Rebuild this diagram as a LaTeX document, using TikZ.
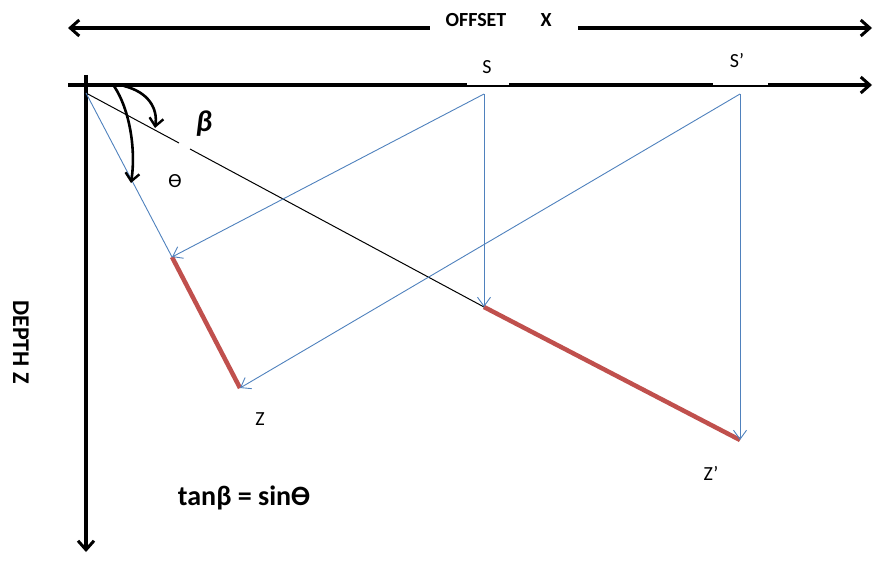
\documentclass[tikz,border=0pt]{standalone}
\usepackage{fontspec}
\setmainfont{Carlito}
\usetikzlibrary{arrows.meta}
\definecolor{rayblue}{RGB}{79,129,189}
\definecolor{segred}{RGB}{192,80,77}
\tikzset{
  axis/.style={line width=3.2pt, -{Straight Barb[length=9pt,width=16pt,line width=3pt]}},
  ray/.style={draw=rayblue, line width=0.9pt, -{Straight Barb[length=9pt,width=13pt,line width=0.9pt]}},
  seg/.style={draw=segred, line width=4.5pt},
  lbl/.style={font=\fontsize{20}{22}\selectfont, inner sep=1pt},
  blbl/.style={font=\fontsize{20}{22}\selectfont\bfseries, inner sep=1pt},
  gapfill/.style={fill=white, inner sep=0pt},
  turn/.style={line width=2.6pt, -{Straight Barb[length=8pt,width=14pt,line width=2.4pt]}}
}
\begin{document}
\begin{tikzpicture}[x=1pt,y=-1pt]
\useasboundingbox (0,0) rectangle (874,567);
% offset arrow
\coordinate (xl) at (68,28);
\coordinate (xr) at (872,28);
\draw[line width=3.2pt, {Straight Barb[length=9pt,width=16pt,line width=3pt]}-{Straight Barb[length=9pt,width=16pt,line width=3pt]}] (xl) -- (xr);
\node[gapfill, minimum width=148pt, minimum height=16pt] (offbg) at (504,28) {};
\node[blbl] (off) at (476,20) {OFFSET};
\node[blbl] (offx) at (546,20) {X};
% surface axis
\coordinate (al) at (68,85);
\coordinate (ar) at (872,85);
\draw[axis] (al) -- (ar);
% vertical axis
\coordinate (zt) at (86,75);
\coordinate (zb) at (86,552);
\draw[axis] (zt) -- (zb);
% gaps in the surface axis (thin line left at the bottom)
\node[gapfill, minimum width=42pt, minimum height=6pt] (gs) at (488,82.4) {};
\node[gapfill, minimum width=55pt, minimum height=6pt] (gsp) at (740,82.4) {};
\node[lbl] (Slab) at (487,67) {S};
\node[lbl] (Splab) at (737,61) {S’};
% points
\coordinate (O) at (86,93);
\coordinate (S) at (484,94);
\coordinate (Sp) at (740,94);
\coordinate (A) at (172,257);
\coordinate (B) at (240,388);
\coordinate (R) at (484,307);
\coordinate (Rp) at (740,440);
\coordinate (g1) at (179,143);
\coordinate (g2) at (190,149);
% red reflectors
\draw[seg] (A) -- (B);
\draw[seg] (R) -- (Rp);
% black dip line with gap
\draw[line width=1pt] (O) -- (g1);
\draw[line width=1pt] (g2) -- (R);
% blue rays
\draw[rayblue, line width=0.9pt] (O) -- (A);
\draw[ray] (S) -- (A);
\draw[ray] (S) -- (R);
\draw[ray] (Sp) -- (B);
\draw[ray] (Sp) -- (Rp);
% curved arrows
\coordinate (b1) at (124,86);
\coordinate (b2) at (155,128);
\draw[turn] (b1) .. controls (148,92) and (158,108) .. (b2);
\coordinate (t1) at (114,86);
\coordinate (t2) at (131,183);
\draw[turn] (t1) .. controls (130,110) and (136,150) .. (t2);
% labels
\node[font=\fontsize{30}{32}\selectfont\bfseries\itshape, inner sep=1pt] (beta) at (204,124) {β};
\node[font=\fontsize{20}{22}\selectfont, inner sep=1pt] (theta) at (175,181) {ϴ};
\node[lbl] (Zlab) at (260,419) {Z};
\node[lbl] (Zplab) at (711,473) {Z’};
\node[font=\fontsize{24}{26}\selectfont\bfseries, inner sep=1pt, rotate=-90] (depth) at (21,342) {DEPTH Z};
\node[font=\fontsize{28}{30}\selectfont\bfseries, inner sep=1pt] (eq) at (244,498) {tanβ = sinϴ};
\end{tikzpicture}
\end{document}
